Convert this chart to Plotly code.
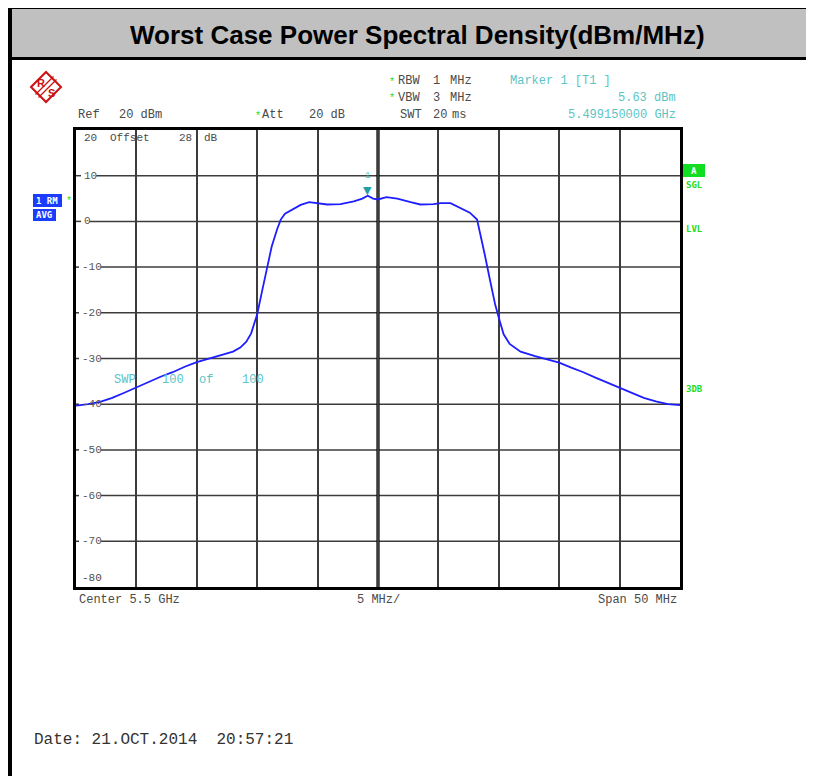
import plotly.graph_objects as go

# ---------------- data ----------------
freq_offset_mhz = [-25, -24, -23, -22, -21, -20, -19, -18, -17, -16, -15, -14, -13, -12,
                   -11.4, -10.9, -10.5, -10.2, -10.0, -9.6, -9.2, -8.8, -8.35, -8.05, -7.7,
                   -7.0, -6.4, -5.7, -5.0, -4.2, -3.1, -2.0, -1.3, -0.85, -0.4, 0.0, 0.7,
                   1.6, 2.7, 3.5, 4.6, 5.2, 6.0, 6.8, 7.6, 8.2, 8.45, 8.85, 9.3, 9.7, 10.0,
                   10.4, 10.9, 11.8, 13, 14, 15, 16, 17, 18, 19, 20, 21, 22, 23, 24, 25]
psd_dbm = [-40.3, -40.0, -39.5, -38.6, -37.5, -36.3, -35.2, -34.0, -33.0, -31.8, -30.8, -30.0,
           -29.2, -28.5, -27.6, -26.3, -24.5, -22.0, -20.3, -15.3, -10.5, -5.5, -1.7, 0.4, 1.7,
           2.8, 3.6, 4.2, 4.0, 3.7, 3.8, 4.4, 5.0, 5.6, 5.0, 4.8, 5.3,
           5.0, 4.2, 3.7, 3.8, 4.0, 4.0, 3.0, 1.9, 0.4, -2.4, -7.4, -13.2, -18.2, -21.1,
           -24.7, -26.8, -28.5, -29.5, -30.2, -30.9, -32.0, -33.0, -34.2, -35.3, -36.4, -37.5,
           -38.6, -39.4, -40.0, -40.2]
marker_freq_mhz = -0.85
marker_level_dbm = 5.63
y_tick_values = [10, 0, -10, -20, -30, -40, -50, -60, -70]
y_tick_labels = ["10", "0", "-10", "-20", "-30", "-40", "-50", "-60", "-70"]

# ---------------- geometry helpers ----------------
OFF = 8                      # page body margin in the browser
W, H = 814 - OFF, 776 - OFF  # figure size
L, R, T, B = 76, 680, 130, 587   # plot area in window pixels


def px(x):
    return (x - L) / (R - L)


def py(y):
    return (B - y) / (B - T)


MONO = "Liberation Mono"
GRAY = "#4a4a4a"
TEAL = "#5cc4c4"
GREEN = "#22dd22"
GRID = "#3c3c3c"

fig = go.Figure()
fig.add_trace(go.Scatter(x=freq_offset_mhz, y=psd_dbm, mode="lines",
                         line=dict(color="#1e1eff", width=1.8), hoverinfo="skip"))

fig.update_layout(width=W, height=H, autosize=False,
                  margin=dict(l=L - OFF, r=W - (R - OFF), t=T - OFF, b=H - (B - OFF), pad=0),
                  paper_bgcolor="white", plot_bgcolor="white", showlegend=False)
axis_common = dict(gridcolor=GRID, gridwidth=1.5, showline=True,
                   mirror=True, linecolor="black", linewidth=3, showticklabels=False,
                   ticks="", zeroline=False, fixedrange=True)
fig.update_xaxes(range=[-25, 25], dtick=5, tick0=0, showgrid=True, **axis_common)
fig.update_yaxes(range=[-80, 20], dtick=10, tick0=0, showgrid=False, **axis_common)

shapes = []
# horizontal grid lines, interrupted where the level labels sit
for v, lab in zip(y_tick_values, y_tick_labels):
    x0 = 82 if not lab.startswith("-") else 80
    x1 = x0 + 6.6 * len(lab) + 1
    shapes.append(dict(type="line", xref="paper", yref="y", layer="below",
                       x0=0, x1=px(x0 - 1), y0=v, y1=v, line=dict(color=GRID, width=1.5)))
    shapes.append(dict(type="line", xref="paper", yref="y", layer="below",
                       x0=px(x1), x1=1, y0=v, y1=v, line=dict(color=GRID, width=1.5)))
# center line thicker
shapes.append(dict(type="line", xref="x", yref="paper", x0=0, x1=0, y0=0, y1=1, layer="below",
                   line=dict(color="black", width=3.2)))
# title band
shapes.append(dict(type="rect", xref="paper", yref="paper", x0=px(12), x1=px(830),
                   y0=py(57), y1=py(9), fillcolor="#c0c0c0", line=dict(width=0), layer="above"))
shapes.append(dict(type="rect", xref="paper", yref="paper", x0=px(8), x1=px(830),
                   y0=py(9), y1=py(5), fillcolor="black", line=dict(width=0), layer="above"))
shapes.append(dict(type="rect", xref="paper", yref="paper", x0=px(8), x1=px(830),
                   y0=py(60), y1=py(57), fillcolor="black", line=dict(width=0), layer="above"))
# left frame bar
shapes.append(dict(type="rect", xref="paper", yref="paper", x0=px(8), x1=px(12),
                   y0=py(800), y1=py(5), fillcolor="black", line=dict(width=0), layer="above"))
# R&S logo diamond
cx, cy, hs = 46, 87, 15
shapes.append(dict(type="path", xref="paper", yref="paper",
                   path=f"M {px(cx - hs)} {py(cy)} L {px(cx)} {py(cy - hs)} L {px(cx + hs)} {py(cy)} L {px(cx)} {py(cy + hs)} Z",
                   line=dict(color="#cc1111", width=2)))
for d in (-1.5, 1.5):
    shapes.append(dict(type="line", xref="paper", yref="paper",
                       x0=px(cx - 9 + d), y0=py(cy + 9 + d), x1=px(cx + 9 + d), y1=py(cy - 9 + d),
                       line=dict(color="#cc1111", width=1.2)))
# blue status boxes
shapes.append(dict(type="rect", xref="paper", yref="paper", x0=px(33), x1=px(62),
                   y0=py(207), y1=py(194), fillcolor="#1a3cff", line=dict(width=0)))
shapes.append(dict(type="rect", xref="paper", yref="paper", x0=px(33), x1=px(56),
                   y0=py(221), y1=py(209), fillcolor="#1a3cff", line=dict(width=0)))
# green "A" box
shapes.append(dict(type="rect", xref="paper", yref="paper", x0=px(683), x1=px(705),
                   y0=py(177), y1=py(164), fillcolor="#11dd22", line=dict(width=0)))
fig.update_layout(shapes=shapes)

anns = []


def txt(text, x, y, color=GRAY, size=12, xanchor="left", family=MONO, bold=False):
    anns.append(dict(text=f"<b>{text}</b>" if bold else text, x=px(x), y=py(y),
                     xref="paper", yref="paper", xanchor=xanchor, yanchor="middle",
                     showarrow=False, font=dict(family=family, size=size, color=color)))


# Title
anns.append(dict(text="<b>Worst Case Power Spectral Density(dBm/MHz)</b>", x=px(417), y=py(35),
                 xref="paper", yref="paper", xanchor="center", yanchor="middle", showarrow=False,
                 font=dict(family="Liberation Sans", size=26, color="black")))

# logo letters
txt("R", 41, 83, color="#cc1111", size=11, xanchor="center", family="Liberation Sans", bold=True)
txt("S", 51, 93, color="#cc1111", size=11, xanchor="center", family="Liberation Sans", bold=True)

# header lines
txt("*", 387, 82, color=GREEN, size=10)
txt("RBW", 396, 81)
txt("1", 431, 81)
txt("MHz", 448, 81)
txt("*", 387, 99, color=GREEN, size=10)
txt("VBW", 396, 98)
txt("3", 431, 98)
txt("MHz", 448, 98)
txt("SWT", 398, 115)
txt("20", 431, 115)
txt("ms", 450, 115)
txt("Ref", 76, 115)
txt("20 dBm", 117, 115)
txt("*", 253, 116, color=GREEN, size=10)
txt("Att", 260, 115)
txt("20 dB", 307, 115)
txt("Marker 1 [T1 ]", 508, 81, color=TEAL)
txt("5.63 dBm", 678, 98, color=TEAL, xanchor="right")
txt("5.499150000 GHz", 678, 115, color=TEAL, xanchor="right")

# inside top row
txt("20", 82, 138, size=11)
txt("Offset", 108, 138, size=11)
txt("28", 177, 138, size=11)
txt("dB", 202, 138, size=11)
txt("-80", 80, 578, size=11)

# y labels on grid lines (data-tied)
for v, lab in zip(y_tick_values, y_tick_labels):
    anns.append(dict(text=lab, x=px(82 if not lab.startswith("-") else 80), y=v, xref="paper", yref="y",
                     xanchor="left", yanchor="middle", showarrow=False,
                     font=dict(family=MONO, size=11, color="#555555")))

# sweep info
txt("SWP", 112, 380, color=TEAL)
txt("100", 160, 380, color=TEAL)
txt("of", 197, 380, color=TEAL)
txt("100", 240, 380, color=TEAL)

# blue box texts
txt("1 RM", 34, 201, color="white", size=9, family="DejaVu Sans Mono", bold=True)
txt("*", 64, 201, color=GREEN, size=10)
txt("AVG", 34, 215, color="white", size=9, family="DejaVu Sans Mono", bold=True)

# right side status
txt("A", 694, 171, color="white", size=9, xanchor="center", family="DejaVu Sans Mono", bold=True)
txt("SGL", 684, 185, color=GREEN, size=9, family="DejaVu Sans Mono", bold=True)
txt("LVL", 684, 229, color=GREEN, size=9, family="DejaVu Sans Mono", bold=True)
txt("3DB", 684, 389, color=GREEN, size=9, family="DejaVu Sans Mono", bold=True)

# bottom labels
txt("Center 5.5 GHz", 77, 600)
txt("5 MHz/", 378, 600, xanchor="center")
txt("Span 50 MHz", 679, 600, xanchor="right")

# date
txt("Date: 21.OCT.2014  20:57:21", 32, 740, color="#333333", size=16)

# marker
anns.append(dict(text="▼", x=marker_freq_mhz, y=marker_level_dbm, xref="x", yref="y",
                 xanchor="center", yanchor="bottom", showarrow=False, yshift=-3,
                 font=dict(family="DejaVu Sans", size=11, color="#1fa0a8")))
anns.append(dict(text="1", x=marker_freq_mhz, y=marker_level_dbm, xref="x", yref="y",
                 xanchor="center", yanchor="bottom", showarrow=False, yshift=13,
                 font=dict(family=MONO, size=9, color=TEAL)))

fig.update_layout(annotations=anns)
fig.write_html("out.html")
